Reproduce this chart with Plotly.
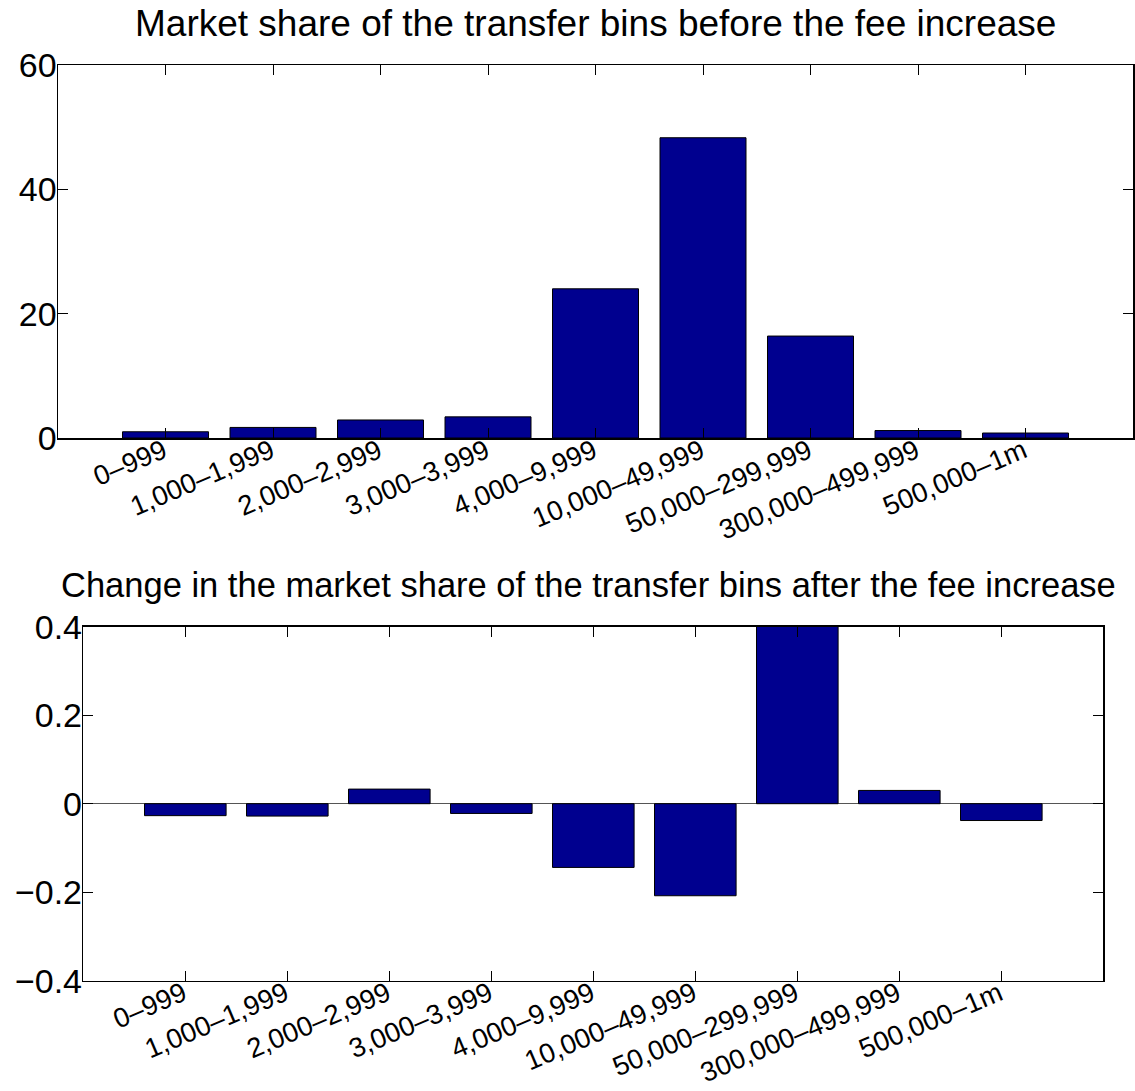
import plotly.graph_objects as go

categories = ["0–999", "1,000–1,999", "2,000–2,999", "3,000–3,999", "4,000–9,999",
              "10,000–49,999", "50,000–299,999", "300,000–499,999", "500,000–1m"]
share_before = [1.0, 1.7, 2.9, 3.4, 24.0, 48.3, 16.4, 1.2, 0.8]
share_change = [-0.027, -0.028, 0.033, -0.022, -0.144, -0.208, 0.404, 0.030, -0.038]

top_title = "Market share of the transfer bins before the fee increase"
bottom_title = "Change in the market share of the transfer bins after the fee increase"
top_yticks = [0, 20, 40, 60]
bottom_yticks = [-0.4, -0.2, 0, 0.2, 0.4]

W, H = 1135, 1091
FONT = "Liberation Sans, Arial, Helvetica, sans-serif"
BAR_COLOR = "#00008F"

def px_x(p):
    return p / W

def px_y(p):
    return 1 - p / H

fig = go.Figure()
fig.add_trace(go.Bar(x=categories, y=share_before, width=0.8,
                     marker=dict(color=BAR_COLOR, line=dict(color="black", width=1)),
                     xaxis="x", yaxis="y", showlegend=False, hoverinfo="skip"))
fig.add_trace(go.Bar(x=categories, y=share_change, width=0.8,
                     marker=dict(color=BAR_COLOR, line=dict(color="black", width=1)),
                     xaxis="x2", yaxis="y2", showlegend=False, hoverinfo="skip"))

common_x = dict(type="category", range=[-1, len(categories)], tickangle=-23,
                ticks="inside", ticklen=10, tickcolor="black", tickwidth=1,
                showline=True, linecolor="black", linewidth=1.5, mirror="ticks",
                showgrid=False, zeroline=False, automargin=False,
                ticklabelstandoff=-15, ticklabelshift=-2,
                tickfont=dict(family=FONT, size=27.5, color="black"))
common_y = dict(ticks="inside", ticklen=10, tickcolor="black", tickwidth=1,
                showline=True, linecolor="black", linewidth=1.5, mirror="ticks",
                showgrid=False, automargin=False, ticklabelstandoff=-7,
                tickfont=dict(family=FONT, size=34, color="black"))

fig.update_layout(
    width=W, height=H,
    margin=dict(l=0, r=0, t=0, b=0),
    paper_bgcolor="white", plot_bgcolor="white",
    font=dict(family=FONT, color="black"),
    bargap=0.2,
    xaxis=dict(**common_x, domain=[px_x(58), px_x(1133)], anchor="y"),
    yaxis=dict(**common_y, domain=[px_y(438), px_y(65)], anchor="x",
               range=[0, 60], tickvals=top_yticks, zeroline=False),
    xaxis2=dict(**common_x, domain=[px_x(83.3), px_x(1103.3)], anchor="y2"),
    yaxis2=dict(**common_y, domain=[px_y(980.7), px_y(626.7)], anchor="x2",
                range=[-0.4, 0.4], tickvals=bottom_yticks,
                zeroline=True, zerolinecolor="#555555", zerolinewidth=1.2),
    annotations=[
        dict(text=top_title, xref="paper", yref="paper",
             x=(px_x(58) + px_x(1133)) / 2, y=px_y(24), xanchor="center", yanchor="middle",
             showarrow=False, font=dict(family=FONT, size=37, color="black")),
        dict(text=bottom_title, xref="paper", yref="paper",
             x=px_x(588), y=px_y(585), xanchor="center", yanchor="middle",
             showarrow=False, font=dict(family=FONT, size=34.5, color="black")),
    ],
)

fig.write_html("out.html", config={"displayModeBar": False, "staticPlot": True})

# remove the default page margin so the figure sits at the window's top-left corner
with open("out.html", encoding="utf-8") as f:
    html = f.read()
html = html.replace("<head>", "<head><style>html,body{margin:0;padding:0;overflow:hidden;}</style>", 1)
with open("out.html", "w", encoding="utf-8") as f:
    f.write(html)
